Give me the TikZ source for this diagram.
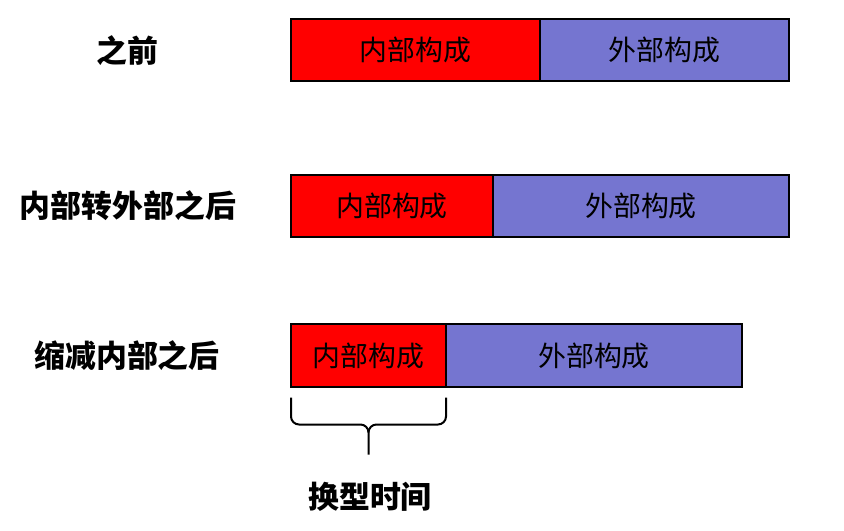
\documentclass[tikz,border=0pt]{standalone}
\usepackage{fontspec}
\newfontfamily\cjk{Noto Sans CJK SC}
\usetikzlibrary{positioning, calc}
\definecolor{partred}{RGB}{255,0,0}
\definecolor{partblue}{RGB}{117,117,208}

\begin{document}
\begin{tikzpicture}[x=1bp, y=1bp,
  part/.style={draw=black, line width=2bp, minimum height=62bp, inner sep=0pt, outer sep=0pt, font=\cjk\fontsize{28}{32}\selectfont},
  inpart/.style={part, fill=partred},
  expart/.style={part, fill=partblue},
  rowlabel/.style={font=\cjk\bfseries\fontsize{31}{36}\selectfont},
  braceline/.style={line width=2bp}]
  \useasboundingbox (0,0) rectangle (844,-531);
  \node[rowlabel] (before) at (127,-51) {之前};
  \node[inpart, minimum width=249bp, anchor=west] (in1) at (291,-50) {内部构成};
  \node[expart, minimum width=249bp, right=0pt of in1] (ex1) {外部构成};
  \node[rowlabel] (moved) at (128,-206) {内部转外部之后};
  \node[inpart, minimum width=202bp, anchor=west] (in2) at (291,-206) {内部构成};
  \node[expart, minimum width=296bp, right=0pt of in2] (ex2) {外部构成};
  \node[rowlabel] (reduced) at (127,-356) {缩减内部之后};
  \node[inpart, minimum width=155bp, anchor=west] (in3) at (291,-355.5) {内部构成};
  \node[expart, minimum width=296bp, right=0pt of in3] (ex3) {外部构成};
  \coordinate (bl) at ($(in3.south west)+(0,-11)$);
  \coordinate (br) at ($(in3.south east)+(0,-11)$);
  \coordinate (tip) at ($(in3.south)+(0,-68)$);
  \draw[braceline] (bl) -- ++(0,-19) to[out=-90,in=180] ++(8,-8) -- ($(tip)+(-8,30)$) to[out=0,in=90] ($(tip)+(0,22)$) -- (tip);
  \draw[braceline] (br) -- ++(0,-19) to[out=-90,in=0] ++(-8,-8) -- ($(tip)+(8,30)$) to[out=180,in=90] ($(tip)+(0,22)$);
  \node[rowlabel] (changeover) at (370,-497) {换型时间};
\end{tikzpicture}
\end{document}
